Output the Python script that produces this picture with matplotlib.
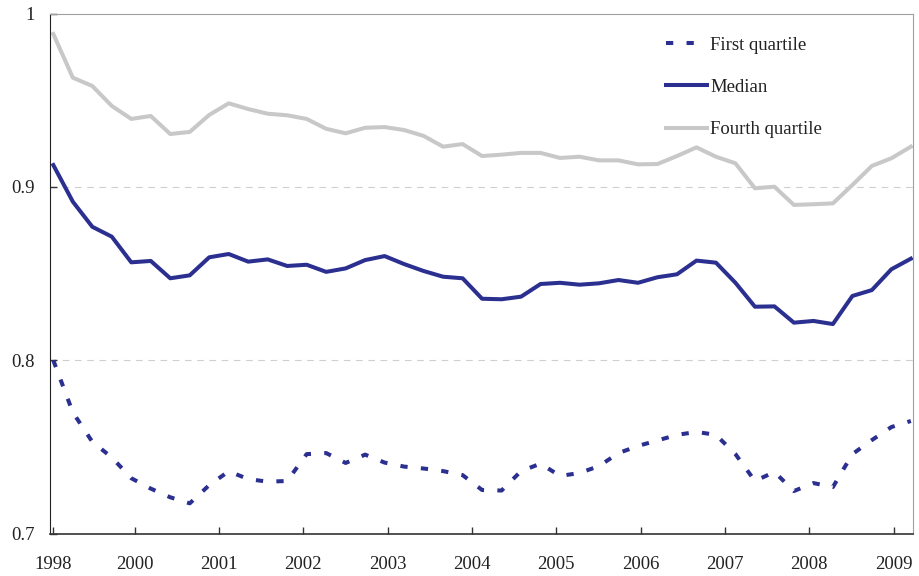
import numpy as np
import matplotlib
matplotlib.use("Agg")
import matplotlib.pyplot as plt

# quarterly observations, 45 points
first_quartile = [
    0.800, 0.770, 0.753, 0.744, 0.732, 0.726, 0.721, 0.7175, 0.728, 0.7360,
    0.7315, 0.730, 0.7304, 0.7459, 0.7465, 0.7408, 0.7456, 0.741, 0.7387, 0.7376,
    0.7361, 0.7338, 0.7252, 0.7249, 0.7361, 0.7404, 0.7333, 0.735, 0.739, 0.7465,
    0.7506, 0.7538, 0.757, 0.7587, 0.757, 0.7459, 0.7304, 0.7356, 0.7246, 0.7292,
    0.7269, 0.7459, 0.754, 0.7615, 0.765,
]
median = [
    0.9126, 0.8915, 0.877, 0.8713, 0.8565, 0.8573, 0.8473, 0.849, 0.8594, 0.8613,
    0.8569, 0.8582, 0.8544, 0.8551, 0.851, 0.853, 0.8578, 0.8601, 0.8555, 0.8515,
    0.8482, 0.8473, 0.8355, 0.8352, 0.8367, 0.844, 0.8447, 0.8436, 0.8444, 0.8463,
    0.8447, 0.8479, 0.8496, 0.8575, 0.8563, 0.8447, 0.8309, 0.8311, 0.8217, 0.8227,
    0.8209, 0.8371, 0.8405, 0.8525, 0.8586,
]
fourth_quartile = [
    0.9882, 0.963, 0.9582, 0.9467, 0.9392, 0.9409, 0.9305, 0.9317, 0.9415, 0.9482,
    0.9449, 0.9422, 0.9413, 0.9392, 0.9335, 0.9309, 0.9341, 0.9345, 0.9328, 0.9294,
    0.9232, 0.9247, 0.9178, 0.9186, 0.9196, 0.9196, 0.9167, 0.9174, 0.9153, 0.9153,
    0.913, 0.9132, 0.9178, 0.9228, 0.9174, 0.9136, 0.8992, 0.9001, 0.8896, 0.89,
    0.8905, 0.9011, 0.9121, 0.9165, 0.9232,
]

year_labels = ["1998", "2000", "2001", "2002", "2003", "2004",
               "2005", "2006", "2007", "2008", "2009"]
year_ticks = [0.0] + [4.176 + 4.327 * k for k in range(10)]

BLUE = "#2B2F8F"
GREY = "#C8C8C8"

plt.rcParams["font.family"] = ["Liberation Serif", "DejaVu Serif"]

fig = plt.figure(figsize=(9.19, 5.76), dpi=100)
ax = fig.add_axes([50 / 919, 42.3 / 576, 863 / 919, 520.2 / 576])

x = np.arange(len(median))
ax.plot(x, first_quartile, color=BLUE, lw=2.9, dashes=(1.8, 3.3),
        label="First quartile", zorder=3)
ax.plot(x, median, color=BLUE, lw=2.9, label="Median", zorder=3)
ax.plot(x, fourth_quartile, color=GREY, lw=2.9, label="Fourth quartile", zorder=2)

ax.set_xlim(-0.17, 44.11)
ax.set_ylim(0.7, 1.0)

ax.set_yticks([0.7, 0.8, 0.9, 1.0])
ax.set_yticklabels(["0.7", "0.8", "0.9", "1"])
ax.set_xticks(year_ticks)
ax.set_xticklabels(year_labels)
ax.tick_params(axis="both", direction="in", length=5, width=1,
               colors="#333333", labelcolor="#222222", labelsize=13.5)
ax.tick_params(axis="y", pad=11)
ax.tick_params(axis="x", pad=16)

for yv in [0.8, 0.9]:
    ax.axhline(yv, color="#CFCFCF", lw=0.8, dashes=(6, 5), zorder=1)

ax.spines["left"].set_color("#222222")
ax.spines["bottom"].set_color("#333333")
ax.spines["bottom"].set_linewidth(1.2)
ax.spines["top"].set_color("#A0A0A0")
ax.spines["right"].set_color("#A0A0A0")

leg = ax.legend(loc="upper left", bbox_to_anchor=(0.714, 0.956), frameon=False,
                fontsize=13.5, handlelength=2.2, handletextpad=0.15,
                labelspacing=1.35, borderpad=0, borderaxespad=0)
for t in leg.get_texts():
    t.set_color("#222222")

fig.savefig("out.png", dpi=100)
